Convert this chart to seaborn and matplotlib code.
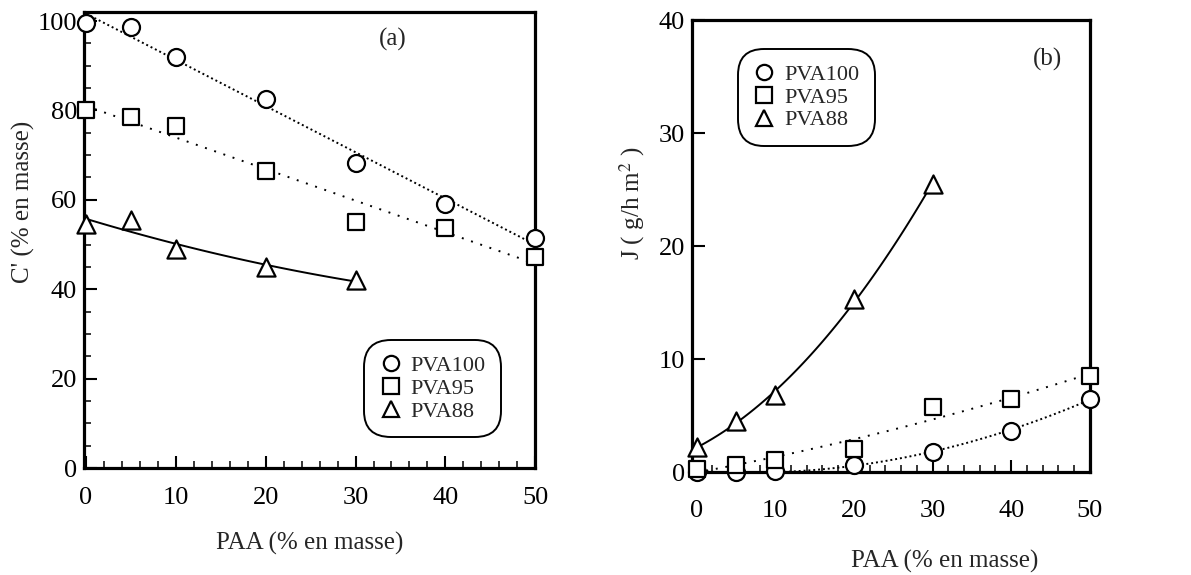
import numpy as np
import pandas as pd
import seaborn as sns
import matplotlib.pyplot as plt
from matplotlib.lines import Line2D
from matplotlib.ticker import MultipleLocator

# (a) C' vs PAA
paa_a = [0, 5, 10, 20, 30, 40, 50]
c_pva100 = [99.5, 98.7, 92.0, 82.5, 68.2, 59.0, 51.5]
c_pva95 = [80.0, 78.5, 76.5, 66.5, 55.0, 53.8, 47.3]
paa_a88 = [0, 5, 10, 20, 30]
c_pva88 = [54.5, 55.5, 49.0, 45.0, 42.0]

# (b) J vs PAA
paa_b = [0, 5, 10, 20, 30, 40, 50]
j_pva100 = [0.0, 0.0, 0.1, 0.6, 1.8, 3.6, 6.5]
j_pva95 = [0.3, 0.6, 1.1, 2.0, 5.8, 6.5, 8.5]
paa_b88 = [0, 5, 10, 20, 30]
j_pva88 = [2.2, 4.5, 6.8, 15.3, 25.5]

series = ['PVA100', 'PVA95', 'PVA88']
markers = {'PVA100': 'o', 'PVA95': 's', 'PVA88': '^'}
sizes = {'PVA100': 150, 'PVA95': 140, 'PVA88': 170}

sns.set_style('ticks')
plt.rcParams['font.family'] = ['Liberation Serif', 'DejaVu Serif']
plt.rcParams['mathtext.fontset'] = 'stix'

fig = plt.figure(figsize=(11.91, 5.75), dpi=100)
ax1 = fig.add_axes([0.0705, 0.186, 0.379, 0.793])
ax2 = fig.add_axes([0.581, 0.179, 0.334, 0.786])

dense = (0, (1, 1.5))
sparse = (0, (1, 4))


def draw(ax, x, y, name, order, ls):
    sns.regplot(x=x, y=y, order=order, ci=None, scatter=False, truncate=True,
                line_kws=dict(color='black', lw=1.4, linestyle=ls, zorder=2), ax=ax)
    sns.scatterplot(x=x, y=y, marker=markers[name], s=sizes[name], color='white',
                    edgecolor='black', linewidth=1.6, zorder=3, clip_on=False, ax=ax)


draw(ax1, paa_a, c_pva100, 'PVA100', 1, dense)
draw(ax1, paa_a, c_pva95, 'PVA95', 1, sparse)
draw(ax1, paa_a88, c_pva88, 'PVA88', 2, '-')

draw(ax2, paa_b, j_pva100, 'PVA100', 2, dense)
draw(ax2, paa_b, j_pva95, 'PVA95', 2, sparse)
draw(ax2, paa_b88, j_pva88, 'PVA88', 2, '-')

ax1.set_xlim(-0.2, 49.4)
ax1.set_ylim(0, 102)
ax1.set_xticks([0, 10, 20, 30, 40, 50])
ax1.set_yticks([0, 20, 40, 60, 80, 100])
ax1.xaxis.set_minor_locator(MultipleLocator(2))
ax1.yaxis.set_minor_locator(MultipleLocator(5))

ax2.set_xlim(-0.6, 49.4)
ax2.set_ylim(0, 40)
ax2.set_xticks([0, 10, 20, 30, 40, 50])
ax2.set_yticks([0, 10, 20, 30, 40])
ax2.xaxis.set_minor_locator(MultipleLocator(2))

for ax in (ax1, ax2):
    for sp in ax.spines.values():
        sp.set_visible(True)
        sp.set_linewidth(2.3)
        sp.set_color('black')
    ax.tick_params(which='major', direction='in', length=9, width=1.5,
                   labelsize=19, colors='black')
    ax.tick_params(which='minor', direction='in', length=5, width=1.3)
    ax.tick_params(axis='y', which='major', pad=5)
    ax.set_facecolor('white')
ax1.tick_params(axis='x', which='major', pad=14)
ax2.tick_params(axis='x', which='major', pad=20)

ax1.set_xlabel('PAA (% en masse)', fontsize=18)
ax1.set_ylabel("C' (% en masse)", fontsize=18)
ax1.xaxis.set_label_coords(0.5, -0.14)
ax1.yaxis.set_label_coords(-0.109, 0.583)
ax1.text(0.685, 0.94, '(a)', transform=ax1.transAxes, fontsize=18,
         ha='center', va='center')

ax2.set_xlabel('PAA (% en masse)', fontsize=18)
ax2.set_ylabel('J ( g/h m$^{2}$ )', fontsize=18)
ax2.xaxis.set_label_coords(0.636, -0.173)
ax2.yaxis.set_label_coords(-0.113, 0.595)
ax2.text(0.894, 0.912, '(b)', transform=ax2.transAxes, fontsize=18,
         ha='center', va='center')

handles = [Line2D([], [], linestyle='none', marker=markers[n], markersize=11,
                  markerfacecolor='white', markeredgecolor='black',
                  markeredgewidth=1.6) for n in series]

for ax, loc, anchor in ((ax1, 'lower left', (0.63, 0.077)),
                        (ax2, 'upper left', (0.126, 0.927))):
    leg = ax.legend(handles, series, loc=loc, bbox_to_anchor=anchor,
                    fontsize=16, frameon=True, fancybox=True, borderpad=0.5,
                    handletextpad=0.4, labelspacing=0.1, handlelength=1.0,
                    borderaxespad=0)
    fr = leg.get_frame()
    fr.set_edgecolor('black')
    fr.set_linewidth(1.4)
    fr.set_alpha(1)
    fr.set_boxstyle('round,pad=0.2,rounding_size=1.2')

fig.savefig('out.png', dpi=100, facecolor='white')
